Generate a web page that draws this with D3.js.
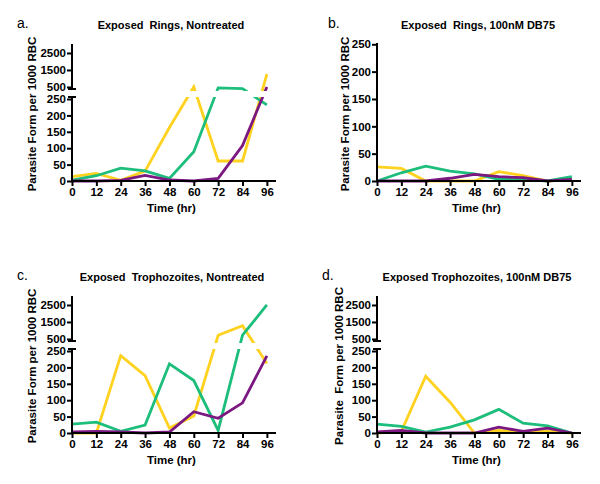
<!DOCTYPE html>
<html><head><meta charset="utf-8">
<script src="https://cdn.jsdelivr.net/npm/d3@7"></script>
<style>
body{margin:0;background:#fff;}
text{font-family:Arial,"Liberation Sans",Helvetica,sans-serif;}
</style></head>
<body><svg id="c" width="600" height="484"></svg>
<script>
const hours = [0,12,24,36,48,60,72,84,96];
const lowerTicks = [0,50,100,150,200,250];
const upperTicks = [500,1500,2500];

// a. Exposed Rings, Nontreated
const aYellow = [13,23,2,30,163,500,61,61,1250];
const aGreen  = [3,16,39,31,8,89,450,400,232];
const aPurple = [0,0,2,17,3,0,8,108,500];
// b. Exposed Rings, 100nM DB75
const bYellow = [26,23,0,0,0,17,10,0,3];
const bGreen  = [0,15,27,18,13,3,3,0,8];
const bPurple = [0,0,0,5,12,8,6,0,3];
// c. Exposed Trophozoites, Nontreated
const cYellow = [0,0,236,175,15,52,720,1280,212];
const cGreen  = [27,33,5,24,211,160,8,720,2500];
const cPurple = [3,5,3,0,3,65,45,92,235];
// d. Exposed Trophozoites, 100nM DB75
const dYellow = [0,5,173,94,0,8,3,5,0];
const dGreen  = [27,20,3,18,40,72,30,22,0];
const dPurple = [3,8,0,0,0,18,5,15,0];

const colors = ["#FFD21F","#1DBE7C","#7B1882"];

const panels = [
  {tag:"a.", title:"Exposed  Rings, Nontreated", ox:0, oy:0, broken:true, series:[aYellow,aGreen,aPurple], tagX:17, titleX:171, yLabX:32, ylab:"Parasite Form per 1000 RBC"},
  {tag:"b.", title:"Exposed  Rings, 100nM DB75", ox:305, oy:0, broken:false, series:[bYellow,bGreen,bPurple], tagX:328, titleX:478, yLabX:345, ylab:"Parasite Form per 1000 RBC"},
  {tag:"c.", title:"Exposed  Trophozoites, Nontreated", ox:0, oy:252, broken:true, series:[cYellow,cGreen,cPurple], tagX:17, titleX:172, yLabX:32, ylab:"Parasite Form per 1000 RBC"},
  {tag:"d.", title:"Exposed Trophozoites, 100nM DB75", ox:305, oy:252, broken:true, series:[dYellow,dGreen,dPurple], tagX:322, titleX:477, yLabX:339, ylab:"Parasite  Form per 1000 RBC"}
];

const svg = d3.select("#c");
const F = "bold 11px Arial, 'Liberation Sans', sans-serif";
const FT = "bold 11.5px Arial, 'Liberation Sans', sans-serif";

panels.forEach((p,pi)=>{
  const g = svg.append("g").attr("transform",`translate(${p.ox},${p.oy})`);
  const left = 72, bottom = 181;
  const x = d3.scaleLinear().domain([0,100]).range([left, left+203]);
  let yf, lower, upper, single;
  if (p.broken) {
    lower = d3.scaleLinear().domain([0,250]).range([bottom,99]);
    upper = d3.scaleLinear().domain([380,2970]).range([89,45]);
    yf = v => v <= 255 ? lower(v) : upper(v);
  } else {
    single = d3.scaleLinear().domain([0,250]).range([bottom,44.3]);
    yf = v => single(v);
  }

  const clipId = "clip"+pi;
  const cp = g.append("defs").append("clipPath").attr("id",clipId);
  if (p.broken) {
    cp.append("rect").attr("x",0).attr("y",0).attr("width",300).attr("height",91);
    cp.append("rect").attr("x",0).attr("y",97).attr("width",300).attr("height",120);
  } else {
    cp.append("rect").attr("x",0).attr("y",0).attr("width",300).attr("height",220);
  }
  const line = d3.line().x((d,i)=>x(hours[i])).y(d=>yf(d));
  const lg = g.append("g").attr("clip-path",`url(#${clipId})`);
  p.series.forEach((s,si)=>{
    lg.append("path").datum(s).attr("d",line)
      .attr("fill","none").attr("stroke",colors[si])
      .attr("stroke-width",2.8).attr("stroke-linejoin","miter");
  });

  const axStyle = sel => {
    sel.select(".domain").remove();
    sel.selectAll(".tick line").attr("stroke","#000").attr("stroke-width",2);
    sel.selectAll(".tick text").style("font",FT).attr("fill","#000");
  };
  const fmt = d3.format("d");
  if (p.broken) {
    g.append("g").attr("transform",`translate(${left},0)`)
      .call(d3.axisLeft(lower).tickValues(lowerTicks).tickFormat(fmt).tickSize(5).tickPadding(1)).call(axStyle);
    g.append("g").attr("transform",`translate(${left},0)`)
      .call(d3.axisLeft(upper).tickValues(upperTicks).tickFormat(fmt).tickSize(5).tickPadding(1)).call(axStyle);
    g.append("line").attr("x1",left).attr("x2",left).attr("y1",bottom+1).attr("y2",97).attr("stroke","#000").attr("stroke-width",2);
    g.append("line").attr("x1",left-4).attr("x2",left+4).attr("y1",97).attr("y2",97).attr("stroke","#000").attr("stroke-width",2);
    g.append("line").attr("x1",left).attr("x2",left).attr("y1",89).attr("y2",44).attr("stroke","#000").attr("stroke-width",2);
    g.append("line").attr("x1",left-4).attr("x2",left+4).attr("y1",89).attr("y2",89).attr("stroke","#000").attr("stroke-width",2);
  } else {
    g.append("g").attr("transform",`translate(${left},0)`)
      .call(d3.axisLeft(single).tickValues(lowerTicks).tickFormat(fmt).tickSize(5).tickPadding(1)).call(axStyle);
    g.append("line").attr("x1",left).attr("x2",left).attr("y1",bottom+1).attr("y2",43).attr("stroke","#000").attr("stroke-width",2);
  }

  g.append("g").attr("transform",`translate(0,${bottom})`)
    .call(d3.axisBottom(x).tickValues(hours).tickFormat(fmt).tickSize(5).tickPadding(2)).call(axStyle);
  g.append("line").attr("x1",left-1).attr("x2",left+204).attr("y1",bottom).attr("y2",bottom).attr("stroke","#000").attr("stroke-width",2);

  g.append("text").attr("x",(left+x(96))/2+2).attr("y",bottom+31).attr("text-anchor","middle")
    .style("font",FT).text("Time (hr)");
  svg.append("text").attr("x",p.titleX).attr("y",29+p.oy).attr("text-anchor","middle")
    .style("font",F).style("white-space","pre").text(p.title);
  svg.append("text").attr("x",p.tagX).attr("y",28+p.oy).style("font","14px Arial, 'Liberation Sans', sans-serif").text(p.tag);
  svg.append("text").attr("transform",`translate(${p.yLabX+4},${114+p.oy}) rotate(-90)`)
    .attr("text-anchor","middle").style("font",FT).style("white-space","pre").text(p.ylab);
});
</script></body></html>
